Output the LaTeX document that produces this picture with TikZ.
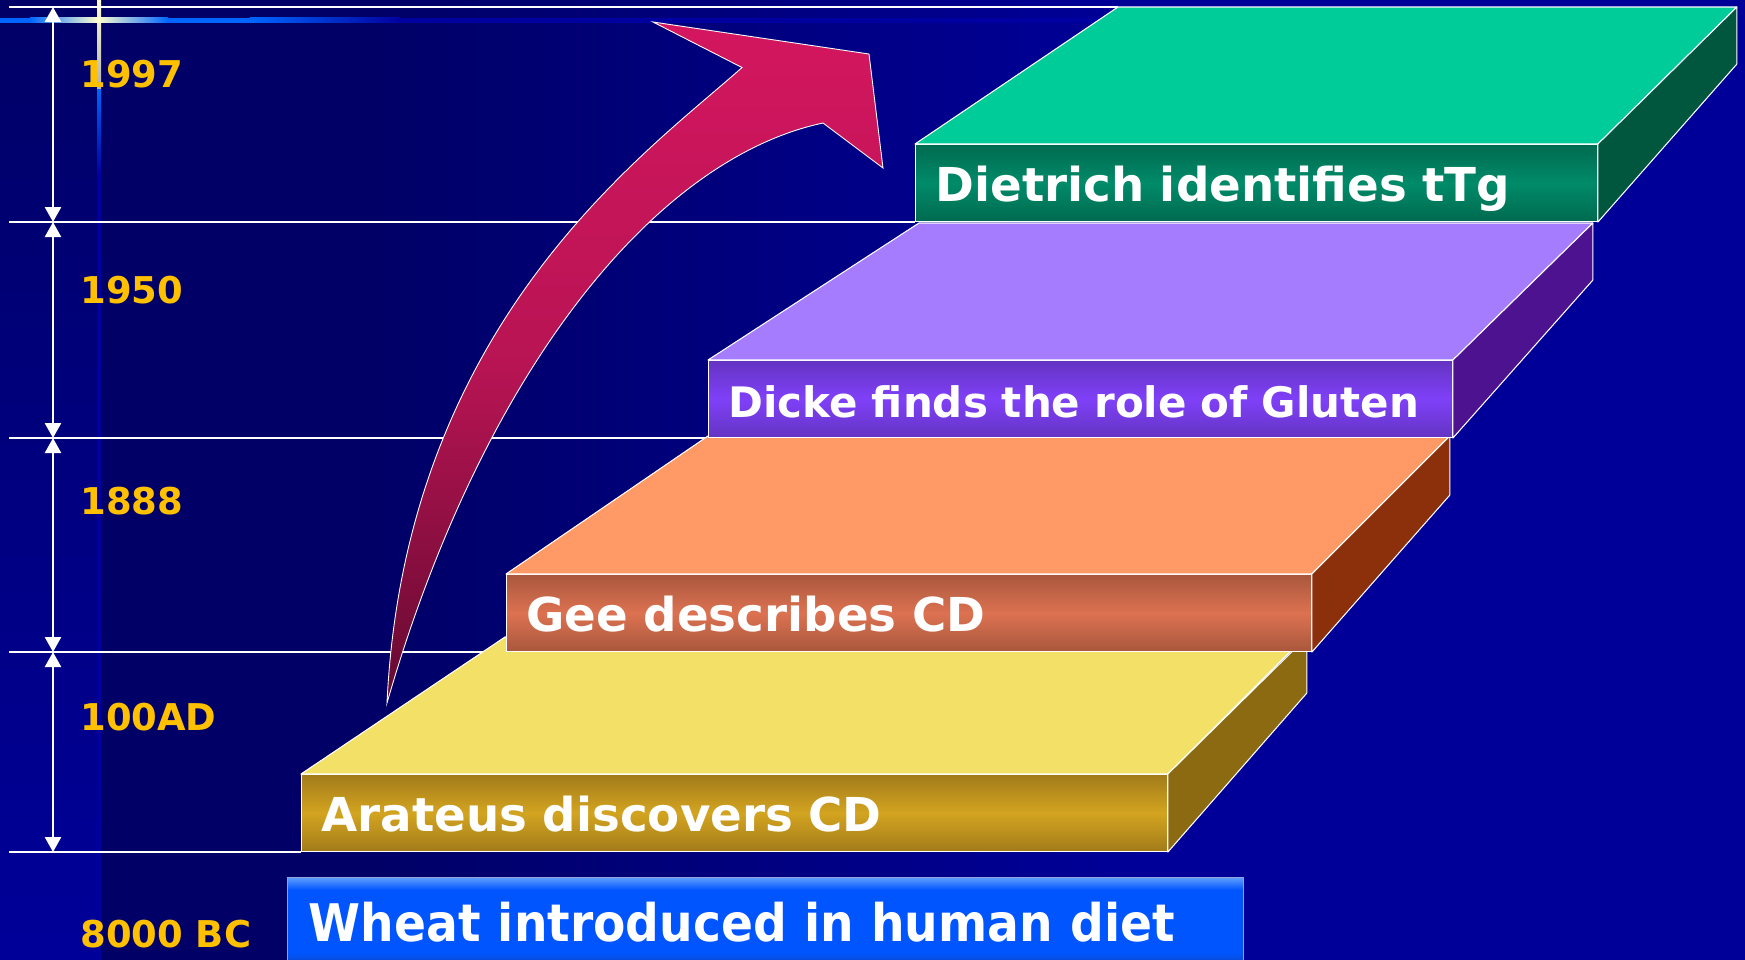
\documentclass[tikz,border=0pt]{standalone}
\usepackage{fontspec}
\setmainfont{DejaVu Sans}
\newfontfamily\slidefont{DejaVu Sans}
\newfontfamily\narrowfont{DejaVu Sans}[FakeStretch=0.91]
\usetikzlibrary{arrows.meta,positioning,calc}

\definecolor{bgnavy}{HTML}{000066}
\definecolor{bgblue}{HTML}{000099}
\definecolor{barblue}{HTML}{0066FF}
\definecolor{barcream}{HTML}{FFFFD0}
\definecolor{bardeep}{HTML}{0000A0}
\definecolor{gold}{HTML}{FFC000}
\definecolor{yeltop}{HTML}{F2E166}
\definecolor{yelside}{HTML}{8C6A12}
\definecolor{yeldark}{HTML}{A27B1A}
\definecolor{yelbright}{HTML}{D3A420}
\definecolor{orgtop}{HTML}{FF9966}
\definecolor{orgside}{HTML}{8B300B}
\definecolor{orgdark}{HTML}{A9573D}
\definecolor{orgbright}{HTML}{DC7251}
\definecolor{purtop}{HTML}{A67CFE}
\definecolor{purside}{HTML}{4D1290}
\definecolor{purdark}{HTML}{6434C2}
\definecolor{purbright}{HTML}{7F40F8}
\definecolor{grntop}{HTML}{00CC99}
\definecolor{grnside}{HTML}{00573E}
\definecolor{grndark}{HTML}{006A4F}
\definecolor{grnbright}{HTML}{008B69}
\definecolor{arrowtop}{HTML}{D4165F}
\definecolor{arrowmid}{HTML}{B81454}
\definecolor{arrowbot}{HTML}{650A30}
\definecolor{wheatlow}{HTML}{0A46C8}
\definecolor{wheatblue}{HTML}{0055FF}
\definecolor{wheatlight}{HTML}{5C9CFF}
\definecolor{wheatedge}{HTML}{8FA3D9}

\pgfdeclarehorizontalshading{bgfill}{100bp}{color(0bp)=(bgnavy); color(33bp)=(bgnavy); color(57bp)=(bgblue); color(100bp)=(bgblue)}
\pgfdeclareverticalshading{wheatfill}{100bp}{color(0bp)=(wheatlow); color(25bp)=(wheatlow); color(32bp)=(wheatblue); color(68bp)=(wheatblue); color(75bp)=(wheatlight); color(100bp)=(wheatlight)}

\pgfdeclarelayer{backdrop}
\pgfdeclarelayer{rules}
\pgfsetlayers{backdrop,rules,main}

\tikzset{
  stepface/.style={draw=white, line width=0.6pt, line join=round},
  stepfront/.style={stepface, anchor=north west, inner xsep=0.4cm, inner ysep=0pt,
    text height=1.14cm, text depth=0.4cm, align=left, text=white,
    font=\slidefont\bfseries\fontsize{26.6pt}{30pt}\selectfont},
  yearlabel/.style={anchor=base west, inner sep=0pt, text=gold,
    font=\slidefont\bfseries\fontsize{21pt}{25pt}\selectfont},
  gridrule/.style={draw=white, line width=0.9pt},
  dimarrow/.style={<->, >={Triangle[width=0.32cm,length=0.3cm]}, draw=white, line width=1.4pt},
  bigarrow/.style={draw=white, line width=0.5pt, top color=arrowtop, bottom color=arrowbot,
    middle color=arrowmid},
  wheatbox/.style={draw=wheatedge, line width=0.8pt, shade, shading=wheatfill,
    inner xsep=0.42cm, inner ysep=0pt, text height=1.28cm, text depth=0.46cm,
    text width=18.28cm, align=left, text=white,
    font=\narrowfont\bfseries\fontsize{29.5pt}{34pt}\selectfont},
}

\begin{document}
\begin{tikzpicture}[x=0.02cm, y=-0.02cm]
\useasboundingbox (0,0) rectangle (1745,960);

\coordinate (rx) at (9,0);
\coordinate (tx) at (53,0);

\node[stepfront, top color=yeldark, bottom color=yeldark, middle color=yelbright, text width=16.52cm] (arateus) at (301,774) {Arateus discovers CD};
\draw[stepface, fill=yeltop] (arateus.north west) -- (arateus.north east) -- ++(137,-137) -- ($(arateus.north west)+(204,-137)$) -- cycle;
\draw[stepface, fill=yelside] (arateus.north east) -- ++(139,-137) -- ++(0,56) -- (arateus.south east) -- cycle;

\node[stepfront, top color=orgdark, bottom color=orgdark, middle color=orgbright, text width=15.3cm] (gee) at (506,574) {Gee describes CD};
\draw[stepface, fill=orgtop] (gee.north west) -- (gee.north east) -- ++(138,-138) -- ($(gee.north west)+(202,-138)$) -- cycle;
\draw[stepface, fill=orgside] (gee.north east) -- ++(138,-138) -- ++(0,59) -- (gee.south east) -- cycle;

\node[stepfront, top color=purdark, bottom color=purdark, middle color=purbright, text width=14.08cm,
  font=\slidefont\bfseries\fontsize{23.9pt}{28pt}\selectfont] (dicke) at (708,360) {Dicke finds the role of Gluten};
\draw[stepface, fill=purtop] (dicke.north west) -- (dicke.north east) -- ++(140,-137) -- ($(dicke.north west)+(211,-137)$) -- cycle;
\draw[stepface, fill=purside] (dicke.north east) -- ++(140,-137) -- ++(0,57) -- (dicke.south east) -- cycle;

\node[stepfront, top color=grndark, bottom color=grndark, middle color=grnbright, text width=12.84cm] (dietrich) at (915,144) {Dietrich identifies tTg};
\draw[stepface, fill=grntop] (dietrich.north west) -- (dietrich.north east) -- ++(139,-137) -- ($(dietrich.north west)+(203,-137)$) -- cycle;
\draw[stepface, fill=grnside] (dietrich.north east) -- ++(139,-137) -- ++(0,57) -- (dietrich.south east) -- cycle;
\coordinate (ttgback) at ($(dietrich.north west)+(203,-137)$);

\draw[bigarrow] (653,22) -- (869,54) -- (883,168) -- (823,123)
  .. controls (650,160) and (480,380) .. (387,703)
  .. controls (405,320) and (650,150) .. (742,67.5) -- cycle;

\node[yearlabel] (y1997) at (80,87) {1997};
\node[yearlabel] (y1950) at (80,303) {1950};
\node[yearlabel] (y1888) at (80,514) {1888};
\node[yearlabel] (y100) at (80,730) {100AD};
\node[yearlabel] (y8000) at (80,947) {8000 BC};

\node[wheatbox, below=0.5cm of arateus.south west, anchor=north west, xshift=-0.28cm] (wheat) {Wheat introduced in human diet};

\begin{pgfonlayer}{rules}
\draw[gridrule] (ttgback -| rx) -- (ttgback);
\draw[gridrule] (dietrich.south west -| rx) -- (dietrich.south west);
\draw[gridrule] (dicke.south west -| rx) -- (dicke.south west);
\draw[gridrule] (gee.south west -| rx) -- (gee.south west);
\draw[gridrule] (arateus.south west -| rx) -- (arateus.south west);
\draw[dimarrow] (ttgback -| tx) -- (dietrich.south west -| tx);
\draw[dimarrow] (dietrich.south west -| tx) -- (dicke.south west -| tx);
\draw[dimarrow] (dicke.south west -| tx) -- (gee.south west -| tx);
\draw[dimarrow] (gee.south west -| tx) -- (arateus.south west -| tx);
\end{pgfonlayer}

\begin{pgfonlayer}{backdrop}
\shade[top color=bgnavy, bottom color=bgblue] (0,0) rectangle (97,960);
\shade[shading=bgfill] (97,0) rectangle (1745,960);
\fill[bardeep] (97,175) rectangle (101,960);
\shade[top color=barblue, bottom color=bardeep] (97,88) rectangle (101,175);
\shade[top color=barcream, bottom color=barcream!70!bgnavy] (97,0) rectangle (101,88);
\fill[bardeep] (400,17.5) rectangle (1120,22.5);
\shade[left color=barblue, right color=bardeep] (250,17.5) rectangle (400,22.5);
\fill[barblue] (168,17.5) rectangle (250,22.5);
\shade[left color=barcream, right color=barblue] (98,17.5) rectangle (168,22.5);
\shade[left color=barblue, right color=barcream] (30,17.5) rectangle (98,22.5);
\fill[barblue] (0,17.5) rectangle (30,22.5);
\end{pgfonlayer}
\end{tikzpicture}
\end{document}
